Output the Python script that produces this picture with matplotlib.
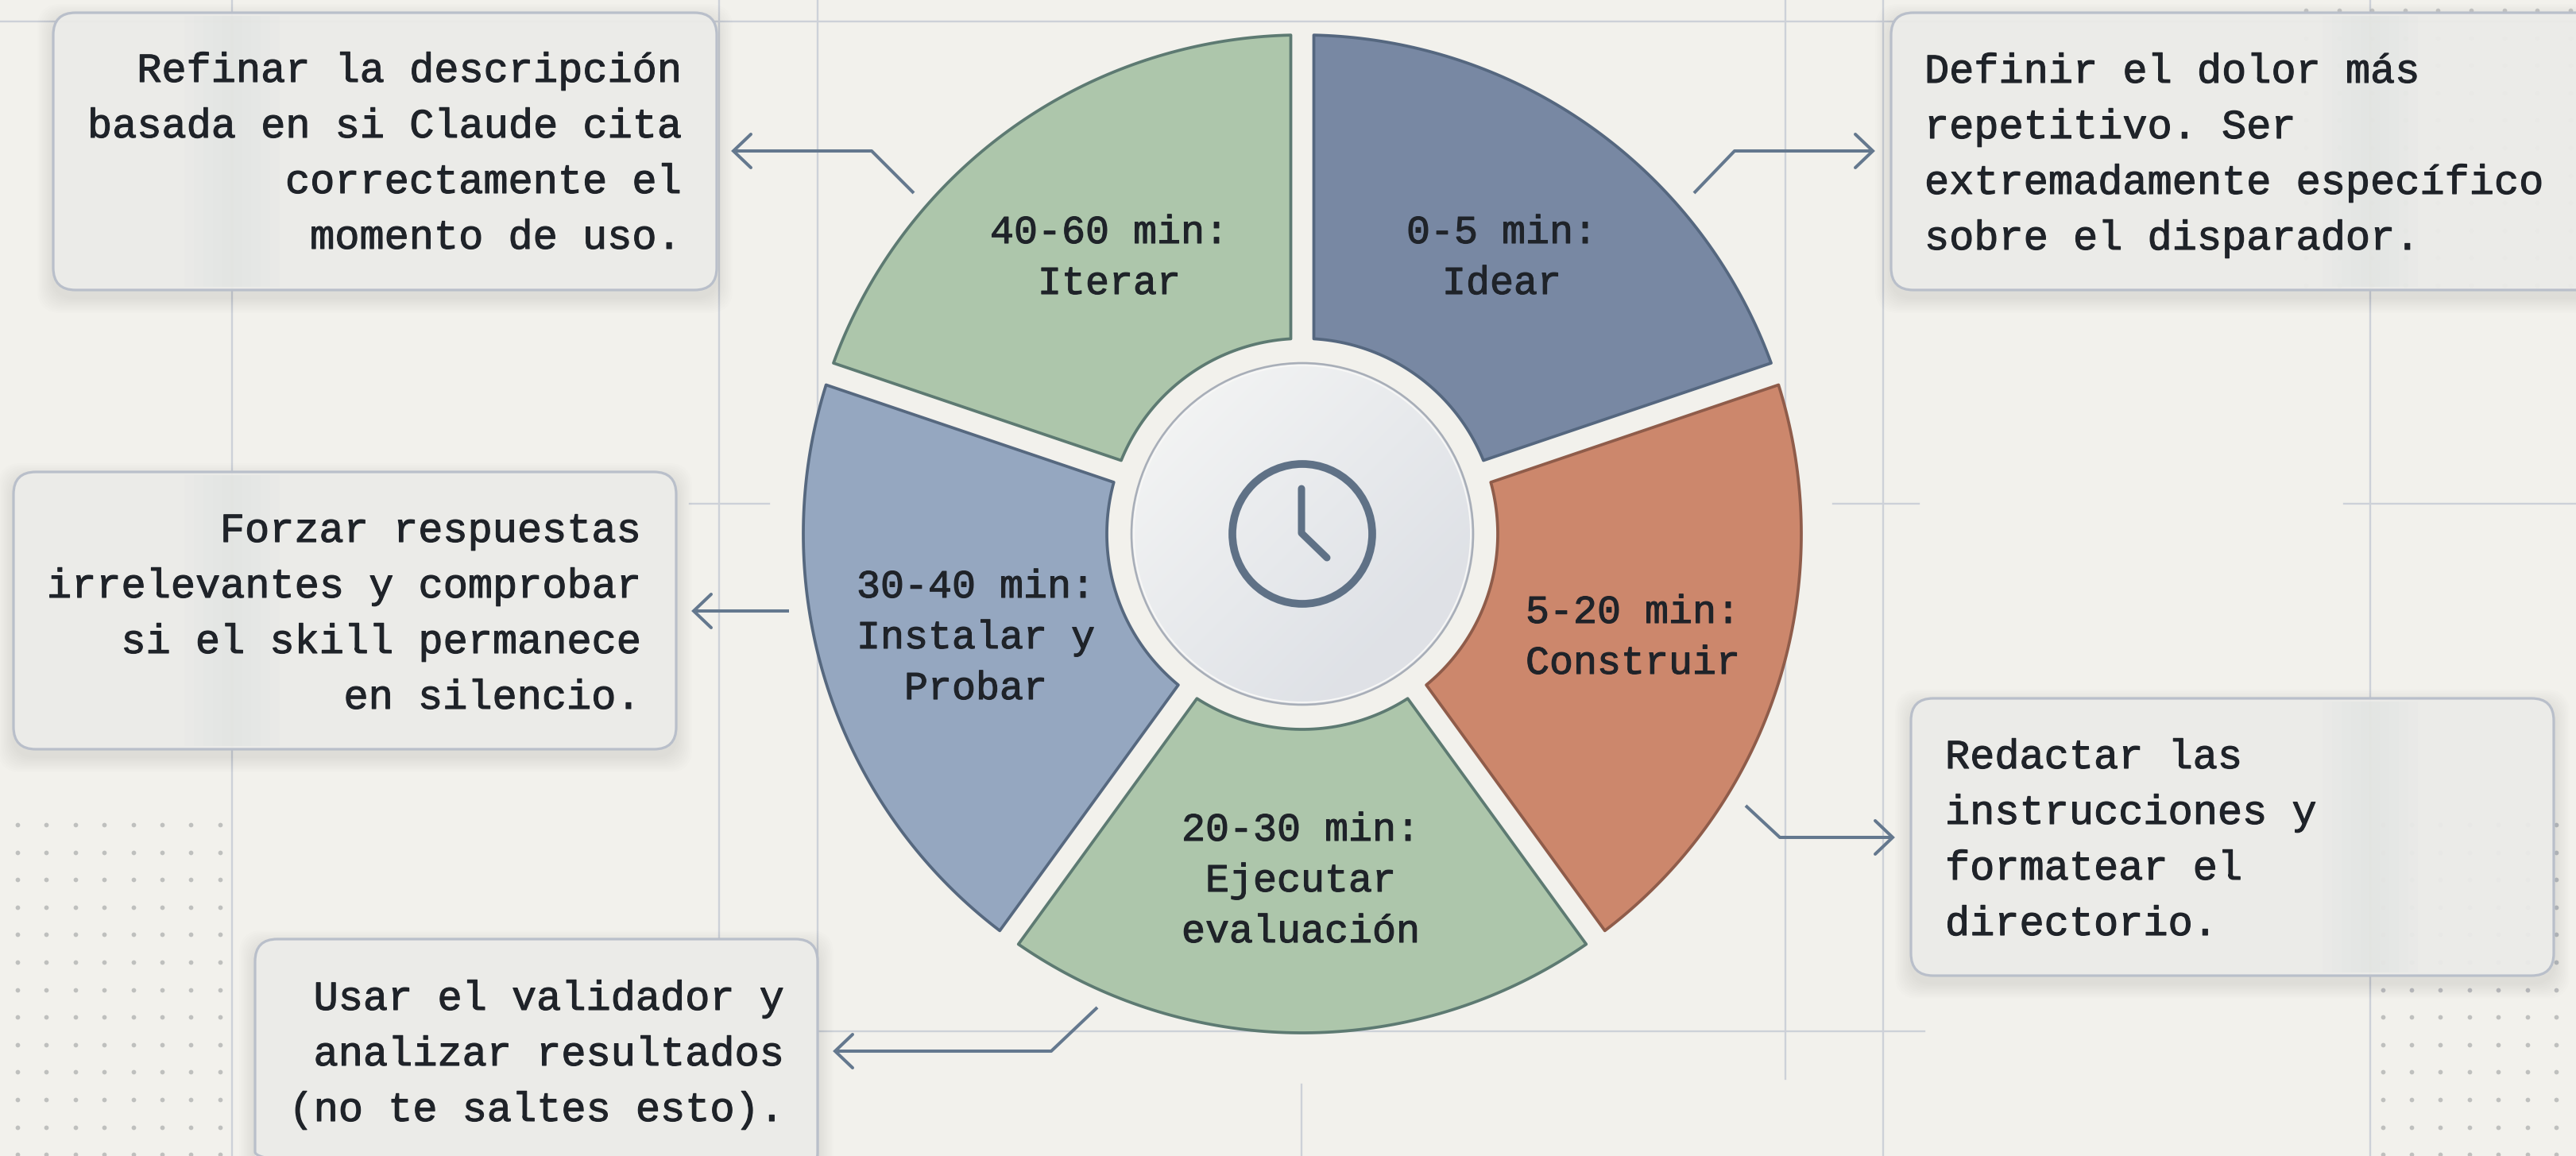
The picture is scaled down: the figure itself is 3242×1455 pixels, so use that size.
import numpy as np
import matplotlib

matplotlib.use("Agg")

import matplotlib.pyplot as plt
import matplotlib.patheffects as pe
from matplotlib.patches import Circle, FancyBboxPatch, Polygon, Rectangle


WIDTH = 3242
HEIGHT = 1455
DPI = 100

GROUND = "#f2f1ec"
INK = "#1f2329"
ARROW = "#64788e"
GRID = "#cdd1d8"
DOT = "#bfc0be"
FONT = "Liberation Mono"

# Clockwise from twelve o'clock, nearly equal shares.
phases = ["Idear", "Construir", "Ejecutar evaluación", "Instalar y Probar", "Iterar"]
shares = [71.3, 72.7, 72.0, 72.7, 71.3]
fills = ["#7888a3", "#cc876c", "#adc6ab", "#95a7c0", "#adc6ab"]
edges = ["#55677f", "#8f5c4a", "#5d7a72", "#56687f", "#5d7a72"]

wheel_labels = [
    ["0-5 min:", "Idear"],
    ["5-20 min:", "Construir"],
    ["20-30 min:", "Ejecutar", "evaluación"],
    ["30-40 min:", "Instalar y", "Probar"],
    ["40-60 min:", "Iterar"],
]
wheel_label_x = [1890, 2055, 1637, 1228, 1396]
wheel_label_y = [306, 784, 1058, 752, 306]

notes = [
    ["Definir el dolor más", "repetitivo. Ser", "extremadamente específico", "sobre el disparador."],
    ["Redactar las", "instrucciones y", "formatear el", "directorio."],
    ["Usar el validador y", "analizar resultados", "(no te saltes esto)."],
    ["Forzar respuestas", "irrelevantes y comprobar", "si el skill permanece", "en silencio."],
    ["Refinar la descripción", "basada en si Claude cita", "correctamente el", "momento de uso."],
]
note_boxes = [
    (2380, 16, 3270, 365),
    (2405, 879, 3214, 1228),
    (321, 1182, 1029, 1478),
    (17, 594, 851, 943),
    (67, 16, 902, 365),
]
note_text_x = [2422, 2448, 986, 806, 857]
note_text_y = [104, 967, 1271, 682, 103]
note_align = ["left", "left", "right", "right", "right"]

connectors = [
    [(2132, 243), (2183, 190), (2357, 190)],
    [(2197, 1014), (2240, 1054), (2382, 1054)],
    [(1381, 1268), (1323, 1323), (1051, 1323)],
    [(993, 769), (873, 769)],
    [(1150, 243), (1097, 190), (923, 190)],
]

vertical_rules = [
    (292, 0, 1455),
    (905, 0, 1182),
    (1029, 0, 1455),
    (2247, 0, 1358),
    (2370, 0, 1455),
    (2983, 0, 1455),
    (1638, 1365, 1455),
]
horizontal_rules = [
    (27, 0, 3242),
    (1298, 1029, 2422),
    (634, 868, 968),
    (634, 2307, 2415),
    (634, 2950, 3242),
]

CENTER = (1639, 672)
OUTER = 628
INNER = 246
GAP = 29


def sector(start, end):
    # Sides stay parallel, so the gap keeps its width from hub to rim.
    half = GAP / 2
    outer_a = np.radians(np.linspace(
        start - np.degrees(np.arcsin(half / OUTER)),
        end + np.degrees(np.arcsin(half / OUTER)),
        90,
    ))
    inner_a = np.radians(np.linspace(
        end + np.degrees(np.arcsin(half / INNER)),
        start - np.degrees(np.arcsin(half / INNER)),
        50,
    ))
    xs = np.r_[OUTER * np.cos(outer_a), INNER * np.cos(inner_a)]
    ys = np.r_[OUTER * np.sin(outer_a), INNER * np.sin(inner_a)]
    return np.c_[CENTER[0] + xs, CENTER[1] - ys]


def dot_field(ax, xs, ys, alpha=1.0):
    grid_x, grid_y = np.meshgrid(xs, ys)
    ax.scatter(grid_x.ravel(), grid_y.ravel(), s=17, color=DOT, alpha=alpha,
               linewidths=0, zorder=1.5)


def note_box(ax, left, top, right, bottom):
    width = right - left
    height = bottom - top
    for grow in range(20, 0, -2):
        ax.add_patch(FancyBboxPatch(
            (left - grow, top + 9 - grow), width + 2 * grow, height + 2 * grow,
            boxstyle="round,pad=0,rounding_size=30", facecolor="#59606c",
            edgecolor="none", alpha=0.012, zorder=2,
        ))
    ax.add_patch(FancyBboxPatch(
        (left, top), width, height,
        boxstyle="round,pad=0,rounding_size=28", facecolor="#ecece9",
        edgecolor="none", alpha=0.95, zorder=3,
    ))
    # Rules behind the frosted panel show up as soft bands.
    for x, y0, y1 in vertical_rules:
        if left + 30 < x < right - 30 and y0 < bottom and y1 > top:
            for half in (60, 48, 36, 24, 12):
                ax.add_patch(Rectangle(
                    (x - half, top + 4), 2 * half, height - 8,
                    facecolor="#d5d8de", edgecolor="none", alpha=0.06, zorder=3.1,
                ))
    ax.add_patch(FancyBboxPatch(
        (left, top), width, height,
        boxstyle="round,pad=0,rounding_size=28", facecolor="none",
        edgecolor="#b9bfca", linewidth=2.3, zorder=3.2,
    ))


def draw_text(ax, x, y, text, size, align):
    ax.text(x, y, text, family=FONT, fontsize=size, color=INK, ha=align,
            va="baseline", zorder=8,
            path_effects=[pe.withStroke(linewidth=0.8, foreground=INK)])


def main():
    fig = plt.figure(figsize=(WIDTH / DPI, HEIGHT / DPI), dpi=DPI, facecolor=GROUND)
    ax = fig.add_axes([0, 0, 1, 1], facecolor=GROUND)
    ax.set_xlim(0, WIDTH)
    ax.set_ylim(HEIGHT, 0)
    ax.axis("off")

    for x, y0, y1 in vertical_rules:
        ax.plot([x, x], [y0, y1], color=GRID, linewidth=1.7, zorder=1)
    for y, x0, x1 in horizontal_rules:
        ax.plot([x0, x1], [y, y], color=GRID, linewidth=1.7, zorder=1)

    dot_field(ax, np.arange(22, 290, 36.4), np.arange(1038, 1460, 34.6))
    dot_field(ax, np.arange(2998.5, 3240, 36.4), np.arange(1038, 1460, 34.6))
    dot_field(ax, np.arange(2902, 3240, 41.6), np.arange(13, 360, 34.6), alpha=0.8)

    for box in note_boxes:
        note_box(ax, *box)

    # Wheel, clockwise from the top.
    spans = 360 * np.array(shares) / sum(shares)
    ends = 90 - np.cumsum(spans)
    starts = ends + spans
    for start, end, fill, edge in zip(starts, ends, fills, edges):
        ax.add_patch(Polygon(
            sector(start, end), closed=True, facecolor=fill, edgecolor=edge,
            linewidth=2.7, joinstyle="round", zorder=4,
        ))

    # Hub with a diagonal sheen.
    hub = Circle(CENTER, 215, transform=ax.transData)
    u, v = np.meshgrid(np.linspace(0, 1, 120), np.linspace(0, 1, 120))
    shade = (u + v) / 2
    light = np.array([0.965, 0.968, 0.965])
    dark = np.array([0.875, 0.886, 0.905])
    sheen = light + (dark - light) * np.clip(shade * 1.3, 0, 1)[..., None]
    image = ax.imshow(
        sheen,
        extent=(CENTER[0] - 215, CENTER[0] + 215, CENTER[1] + 215, CENTER[1] - 215),
        aspect="auto", zorder=5, interpolation="bilinear",
    )
    image.set_clip_path(hub)
    ax.set_xlim(0, WIDTH)
    ax.set_ylim(HEIGHT, 0)
    ax.add_patch(Circle(CENTER, 215, facecolor="none", edgecolor="#a8aeb8",
                        linewidth=1.9, zorder=5.2))
    ax.add_patch(Circle(CENTER, 212, facecolor="none", edgecolor="#f7f7f6",
                        linewidth=1.4, zorder=5.2))

    # Clock glyph.
    ax.add_patch(Circle(CENTER, 88, facecolor="none", edgecolor="#5f7186",
                        linewidth=7, zorder=6))
    ax.plot(
        [CENTER[0] - 1, CENTER[0] - 1, CENTER[0] + 31],
        [CENTER[1] - 57, CENTER[1] - 1, CENTER[1] + 30],
        color="#5f7186", linewidth=6.5, solid_capstyle="round",
        solid_joinstyle="round", zorder=6,
    )

    for lines, x, y in zip(wheel_labels, wheel_label_x, wheel_label_y):
        for row, text in enumerate(lines):
            draw_text(ax, x, y + row * 64, text, 36, "center")

    for lines, x, y, align in zip(notes, note_text_x, note_text_y, note_align):
        for row, text in enumerate(lines):
            draw_text(ax, x, y + row * 70, text, 37.4, align)

    for path in connectors:
        xs, ys = zip(*path)
        ax.plot(xs, ys, color=ARROW, linewidth=2.9, solid_capstyle="butt",
                solid_joinstyle="round", zorder=7)
        tip_x, tip_y = path[-1]
        back = 22 if path[-2][0] < tip_x else -22
        ax.plot([tip_x - back, tip_x, tip_x - back],
                [tip_y - 21, tip_y, tip_y + 21],
                color=ARROW, linewidth=2.9, solid_capstyle="round",
                solid_joinstyle="miter", zorder=7)

    fig.savefig("out.png", dpi=DPI, facecolor=GROUND)
    plt.close(fig)


if __name__ == "__main__":
    main()
